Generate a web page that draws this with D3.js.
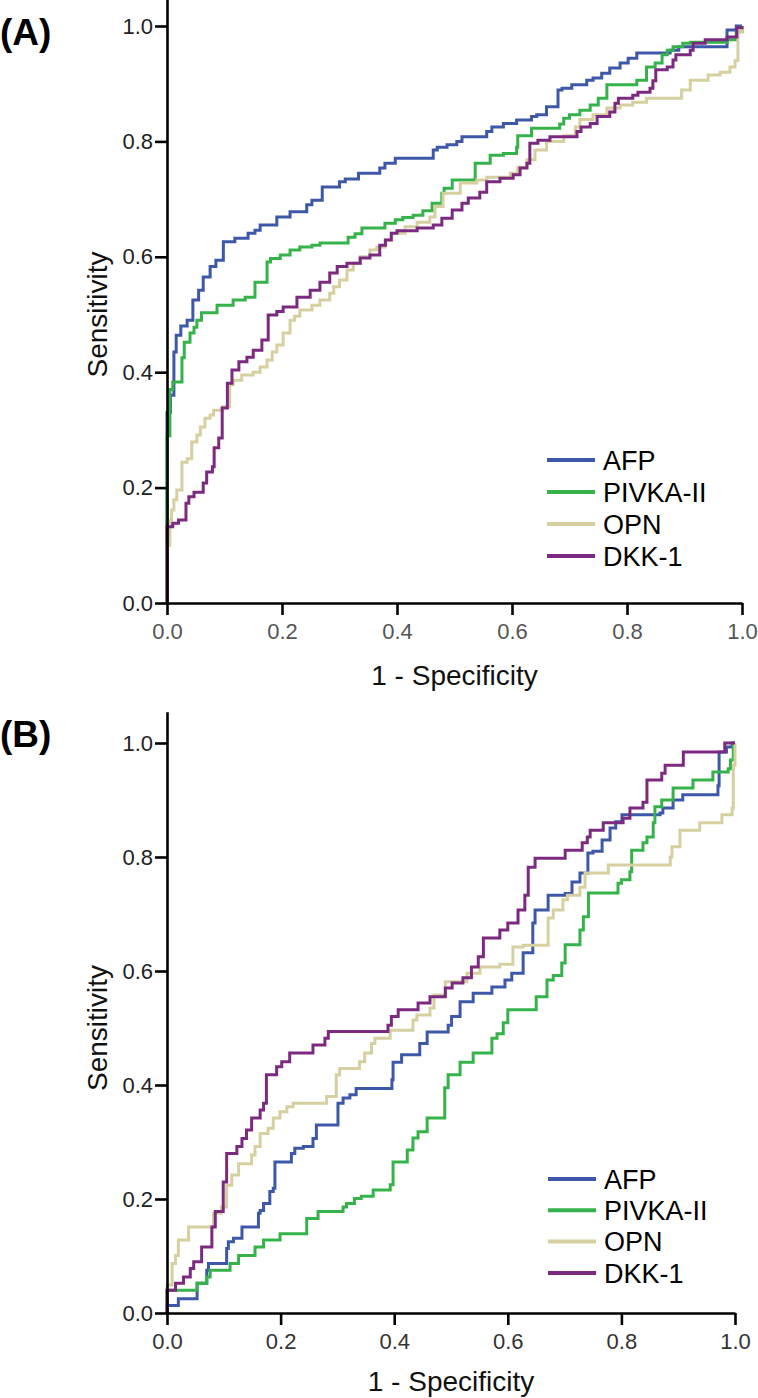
<!DOCTYPE html>
<html><head><meta charset="utf-8">
<script src="https://cdn.jsdelivr.net/npm/d3@7"></script>
<style>
body{margin:0;background:#fff}
svg{display:block}
text{font-family:"Liberation Sans",Arial,Helvetica,sans-serif}
</style>
</head><body>
<svg id="chart" width="758" height="1398"></svg>
<script>
// ---------- data ----------
const seriesNames = ["AFP", "PIVKA-II", "OPN", "DKK-1"];
const tickValues = [0, 0.2, 0.4, 0.6, 0.8, 1.0];
const panelLabels = ["(A)", "(B)"];
const xTitle = "1 - Specificity";
const yTitle = "Sensitivity";

// ROC step points: [1 - specificity, sensitivity]
const afpA = [[0,0],[0,0.33],[0.006,0.36],[0.012,0.435],[0.016,0.464],[0.024,0.48],[0.035,0.49],[0.045,0.525],[0.055,0.542],[0.063,0.565],[0.075,0.583],[0.085,0.594],[0.098,0.626],[0.118,0.632],[0.141,0.641],[0.153,0.646],[0.162,0.655],[0.191,0.669],[0.214,0.678],[0.243,0.69],[0.252,0.698],[0.27,0.721],[0.3,0.73],[0.31,0.735],[0.333,0.745],[0.37,0.754],[0.379,0.762],[0.397,0.771],[0.463,0.785],[0.47,0.79],[0.487,0.794],[0.504,0.8],[0.513,0.808],[0.556,0.817],[0.565,0.825],[0.585,0.831],[0.608,0.837],[0.634,0.843],[0.643,0.846],[0.66,0.86],[0.68,0.889],[0.687,0.892],[0.704,0.898],[0.73,0.906],[0.741,0.91],[0.756,0.918],[0.77,0.927],[0.788,0.936],[0.802,0.944],[0.817,0.953],[0.875,0.958],[0.89,0.964],[0.974,0.993],[0.99,1.0],[1,1]];
const pivkaA = [[0,0],[0,0.29],[0.005,0.37],[0.01,0.383],[0.026,0.425],[0.03,0.452],[0.04,0.468],[0.047,0.478],[0.052,0.49],[0.06,0.503],[0.087,0.516],[0.115,0.525],[0.136,0.53],[0.153,0.556],[0.174,0.591],[0.18,0.597],[0.197,0.603],[0.214,0.612],[0.231,0.617],[0.252,0.62],[0.266,0.624],[0.315,0.634],[0.327,0.64],[0.339,0.65],[0.379,0.658],[0.397,0.664],[0.41,0.668],[0.428,0.672],[0.445,0.68],[0.461,0.693],[0.478,0.71],[0.482,0.719],[0.496,0.733],[0.536,0.762],[0.562,0.776],[0.585,0.779],[0.608,0.79],[0.61,0.81],[0.634,0.823],[0.683,0.83],[0.69,0.84],[0.7,0.846],[0.718,0.854],[0.736,0.863],[0.75,0.875],[0.765,0.898],[0.817,0.906],[0.834,0.929],[0.849,0.936],[0.861,0.95],[0.87,0.958],[0.88,0.964],[0.897,0.97],[0.91,0.972],[0.974,0.976],[0.99,0.99],[1,1]];
const opnA = [[0,0],[0,0.1],[0.005,0.144],[0.008,0.161],[0.012,0.179],[0.017,0.196],[0.026,0.244],[0.035,0.25],[0.043,0.279],[0.052,0.291],[0.058,0.305],[0.066,0.32],[0.075,0.326],[0.081,0.334],[0.096,0.34],[0.109,0.378],[0.115,0.386],[0.13,0.395],[0.15,0.4],[0.162,0.409],[0.174,0.421],[0.183,0.435],[0.191,0.447],[0.202,0.468],[0.214,0.49],[0.222,0.497],[0.231,0.508],[0.252,0.516],[0.266,0.525],[0.283,0.537],[0.29,0.548],[0.3,0.56],[0.313,0.577],[0.324,0.589],[0.336,0.6],[0.353,0.612],[0.365,0.617],[0.379,0.629],[0.391,0.641],[0.414,0.652],[0.435,0.66],[0.457,0.669],[0.466,0.687],[0.48,0.71],[0.51,0.728],[0.539,0.733],[0.556,0.738],[0.597,0.745],[0.61,0.755],[0.626,0.768],[0.64,0.785],[0.66,0.8],[0.69,0.81],[0.71,0.825],[0.718,0.838],[0.741,0.846],[0.765,0.858],[0.788,0.863],[0.81,0.868],[0.834,0.875],[0.895,0.889],[0.91,0.906],[0.941,0.915],[0.962,0.92],[0.979,0.929],[0.988,0.94],[0.993,0.99],[1,1]];
const dkkA = [[0,0],[0,0.132],[0.01,0.138],[0.02,0.144],[0.033,0.173],[0.038,0.184],[0.047,0.192],[0.063,0.208],[0.069,0.227],[0.079,0.236],[0.082,0.269],[0.09,0.286],[0.096,0.338],[0.105,0.381],[0.113,0.404],[0.125,0.418],[0.139,0.426],[0.15,0.438],[0.165,0.456],[0.176,0.499],[0.191,0.505],[0.202,0.513],[0.226,0.53],[0.249,0.542],[0.266,0.556],[0.283,0.572],[0.296,0.583],[0.313,0.589],[0.336,0.598],[0.353,0.603],[0.37,0.62],[0.38,0.629],[0.39,0.641],[0.4,0.645],[0.435,0.65],[0.463,0.655],[0.478,0.667],[0.496,0.681],[0.513,0.693],[0.524,0.702],[0.544,0.712],[0.556,0.73],[0.579,0.736],[0.602,0.742],[0.614,0.754],[0.626,0.762],[0.631,0.797],[0.645,0.802],[0.666,0.808],[0.713,0.817],[0.72,0.825],[0.736,0.831],[0.748,0.843],[0.77,0.851],[0.779,0.866],[0.785,0.875],[0.81,0.88],[0.819,0.885],[0.84,0.892],[0.845,0.905],[0.85,0.924],[0.87,0.929],[0.88,0.941],[0.885,0.95],[0.91,0.958],[0.915,0.97],[0.936,0.976],[0.974,0.981],[0.991,0.997],[1,1]];

const afpB = [[0,0],[0,0.013],[0.02,0.025],[0.053,0.052],[0.07,0.075],[0.073,0.087],[0.105,0.113],[0.108,0.125],[0.117,0.131],[0.132,0.151],[0.161,0.175],[0.164,0.18],[0.17,0.192],[0.181,0.213],[0.187,0.219],[0.19,0.265],[0.219,0.28],[0.225,0.289],[0.24,0.292],[0.257,0.306],[0.263,0.33],[0.301,0.368],[0.31,0.377],[0.322,0.383],[0.333,0.394],[0.396,0.409],[0.398,0.44],[0.413,0.453],[0.445,0.473],[0.458,0.493],[0.495,0.505],[0.501,0.52],[0.516,0.546],[0.539,0.561],[0.572,0.572],[0.595,0.584],[0.607,0.596],[0.627,0.632],[0.644,0.684],[0.648,0.707],[0.671,0.733],[0.701,0.736],[0.713,0.756],[0.727,0.772],[0.741,0.807],[0.75,0.81],[0.766,0.83],[0.78,0.851],[0.79,0.862],[0.801,0.874],[0.868,0.877],[0.873,0.886],[0.891,0.9],[0.908,0.909],[0.97,0.925],[0.972,0.984],[0.985,0.993],[0.995,1.0],[1,1]];
const pivkaB = [[0,0],[0,0.04],[0.053,0.052],[0.07,0.063],[0.076,0.075],[0.111,0.087],[0.126,0.101],[0.155,0.116],[0.17,0.128],[0.199,0.139],[0.246,0.166],[0.266,0.178],[0.31,0.186],[0.316,0.192],[0.33,0.201],[0.342,0.205],[0.363,0.216],[0.393,0.225],[0.398,0.265],[0.423,0.286],[0.433,0.307],[0.442,0.318],[0.458,0.342],[0.489,0.395],[0.495,0.418],[0.516,0.44],[0.539,0.456],[0.572,0.482],[0.581,0.49],[0.592,0.509],[0.6,0.532],[0.65,0.555],[0.669,0.584],[0.68,0.592],[0.695,0.614],[0.701,0.646],[0.727,0.672],[0.733,0.695],[0.742,0.737],[0.794,0.754],[0.8,0.76],[0.815,0.774],[0.818,0.812],[0.838,0.825],[0.845,0.835],[0.856,0.86],[0.859,0.888],[0.871,0.9],[0.891,0.921],[0.926,0.935],[0.961,0.949],[0.988,0.955],[0.992,0.97],[0.997,1.0],[1,1]];
const opnB = [[0,0],[0,0.049],[0.009,0.087],[0.015,0.101],[0.02,0.128],[0.038,0.151],[0.082,0.175],[0.096,0.186],[0.105,0.224],[0.114,0.242],[0.126,0.262],[0.149,0.277],[0.155,0.292],[0.164,0.315],[0.178,0.324],[0.187,0.342],[0.199,0.353],[0.211,0.362],[0.222,0.368],[0.281,0.38],[0.298,0.418],[0.304,0.429],[0.339,0.441],[0.348,0.456],[0.36,0.473],[0.366,0.482],[0.393,0.496],[0.433,0.514],[0.44,0.523],[0.463,0.535],[0.47,0.558],[0.49,0.581],[0.528,0.596],[0.551,0.607],[0.586,0.612],[0.609,0.642],[0.627,0.645],[0.671,0.693],[0.68,0.707],[0.697,0.725],[0.705,0.733],[0.727,0.747],[0.736,0.772],[0.777,0.786],[0.886,0.8],[0.889,0.818],[0.903,0.847],[0.938,0.86],[0.977,0.874],[0.995,0.886],[0.997,0.961],[1,1]];
const dkkB = [[0,0],[0,0.04],[0.015,0.052],[0.029,0.063],[0.041,0.078],[0.047,0.09],[0.061,0.116],[0.079,0.151],[0.085,0.178],[0.099,0.23],[0.105,0.28],[0.123,0.292],[0.132,0.306],[0.14,0.321],[0.149,0.342],[0.164,0.356],[0.17,0.368],[0.175,0.418],[0.193,0.432],[0.202,0.441],[0.216,0.456],[0.257,0.47],[0.278,0.482],[0.284,0.494],[0.389,0.505],[0.395,0.52],[0.407,0.532],[0.442,0.544],[0.463,0.555],[0.49,0.57],[0.502,0.579],[0.521,0.588],[0.536,0.607],[0.548,0.625],[0.557,0.658],[0.586,0.672],[0.6,0.684],[0.618,0.707],[0.63,0.733],[0.636,0.782],[0.648,0.798],[0.701,0.812],[0.731,0.825],[0.74,0.835],[0.745,0.847],[0.768,0.86],[0.803,0.868],[0.815,0.886],[0.838,0.896],[0.845,0.935],[0.871,0.947],[0.877,0.961],[0.909,0.984],[0.982,1.0],[1,1]];

// ---------- style / layout ----------
const colors = ["#3d58a8", "#35b34a", "#d6d0a0", "#7b2a7f"];
const panels = [
  { label: panelLabels[0], series: [afpA, pivkaA, opnA, dkkA],
    left: 167, right: 742, bottom: 603, top: 26, labelY: 45, titleGap: 82,
    legendX: 547, legendY: 460, legendStep: 32, xTickColor: "#555" },
  { label: panelLabels[1], series: [afpB, pivkaB, opnB, dkkB],
    left: 167, right: 735, bottom: 1313, top: 743, labelY: 747, titleGap: 78,
    legendX: 548, legendY: 1179, legendStep: 31.3, xTickColor: "#333" }
];
const yMax = 1.055;

const svg = d3.select("#chart");
svg.append("rect").attr("width", 758).attr("height", 1398).attr("fill", "#fff");

panels.forEach(p => {
  const g = svg.append("g");
  const x = d3.scaleLinear().domain([0, 1]).range([p.left, p.right]);
  const unit = p.bottom - p.top;
  const y = d3.scaleLinear().domain([0, yMax]).range([p.bottom, p.bottom - unit * yMax]);

  // curves
  const line = d3.line().x(d => x(d[0])).y(d => y(d[1])).curve(d3.curveStepAfter);
  p.series.forEach((s, i) => {
    g.append("path").datum(s).attr("d", line)
      .attr("fill", "none").attr("stroke", colors[i])
      .attr("stroke-width", 3).attr("stroke-linejoin", "miter");
  });

  // axes
  const yAxis = g.append("g").attr("transform", `translate(${p.left},0)`)
    .call(d3.axisLeft(y).tickValues(tickValues).tickFormat(d3.format(".1f"))
      .tickSize(12).tickSizeOuter(0).tickPadding(2));
  const xAxis = g.append("g").attr("transform", `translate(0,${p.bottom})`)
    .call(d3.axisBottom(x).tickValues(tickValues).tickFormat(d3.format(".1f"))
      .tickSize(12).tickSizeOuter(0).tickPadding(8));
  [yAxis, xAxis].forEach(a => {
    a.selectAll("path,line").attr("stroke", "#000").attr("stroke-width", 2.6);
    a.selectAll("text").attr("font-size", 22).attr("font-family", '"Liberation Sans", Arial, sans-serif');
  });
  yAxis.selectAll("text").attr("fill", "#222");
  xAxis.selectAll("text").attr("fill", p.xTickColor);

  // titles
  g.append("text").attr("x", (p.left + p.right) / 2).attr("y", p.bottom + p.titleGap)
    .attr("text-anchor", "middle").attr("font-size", 28).attr("fill", "#111").text(xTitle);
  g.append("text").attr("transform", `translate(107,${y(0.5)}) rotate(-90)`)
    .attr("text-anchor", "middle").attr("font-size", 28).attr("fill", "#111").text(yTitle);
  g.append("text").attr("x", 0).attr("y", p.labelY)
    .attr("font-size", 37).attr("font-weight", "bold").attr("fill", "#000").text(p.label);

  // legend
  seriesNames.forEach((n, i) => {
    const ly = p.legendY + i * p.legendStep;
    g.append("line").attr("x1", p.legendX).attr("x2", p.legendX + 48)
      .attr("y1", ly).attr("y2", ly).attr("stroke", colors[i]).attr("stroke-width", 4);
    g.append("text").attr("x", p.legendX + 56).attr("y", ly).attr("dy", "0.36em")
      .attr("font-size", 27).attr("fill", "#000").text(n);
  });
});
</script>
</body></html>
